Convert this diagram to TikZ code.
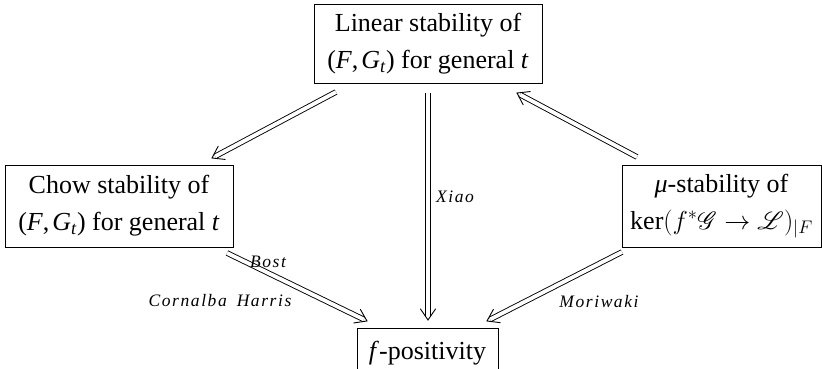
\RequirePackage{fix-cm}
\documentclass[tikz,border=0pt]{standalone}
\usepackage{fontspec}
\usepackage{mathrsfs}
\setmainfont{Liberation Serif}
\usetikzlibrary{arrows.meta,decorations.markings}
\newcommand{\FGt}{(\textit{F},\kern3pt\textit{G}\textsubscript{\textit{t}})}
\begin{document}
\begin{tikzpicture}[x=1pt,y=-1pt,
  box/.style={draw,line width=0.9pt,align=center,inner sep=0pt,
    font=\fontsize{26}{37}\selectfont},
  imp/.style={double,double distance=3.8pt,line width=0.9pt,shorten >=3.6pt},
  tipend/.style={decorate,decoration={markings,mark=at position 1 with
    {\draw[line width=0.9pt,line join=miter,line cap=round] (-11pt,7.5pt) -- (0,0) -- (-11pt,-7.5pt);}}},
  lab/.style={font=\fontsize{17.5}{20}\selectfont\itshape\addfontfeature{LetterSpace=9}}]
\useasboundingbox (0,0) rectangle (822,369);
\begin{scope}
\clip (0,0) rectangle (822,369);
\node[box,minimum width=228,minimum height=79] (top) at (428,43.5)
  {Linear stability of\\\FGt{} for general \textit{t}};
\node[box,minimum width=228,minimum height=82] (left) at (119,206)
  {Chow stability of\\\FGt{} for general \textit{t}};
\node[box,minimum width=199,minimum height=82] (right) at (721.5,206)
  {\textit{μ}-stability of\\$\ker(f^*\mathscr{G}\to\mathscr{L})_{|F}$};
\node[box,minimum width=141,minimum height=50] (bot) at (427.5,353)
  {\textit{f}-positivity};
\end{scope}
\coordinate (a1) at (336,92); \coordinate (a2) at (212,158);
\coordinate (b1) at (428,93); \coordinate (b2) at (428,320);
\coordinate (c1) at (637,157); \coordinate (c2) at (517,93);
\coordinate (d1) at (622,252); \coordinate (d2) at (487,321);
\coordinate (e1) at (227,253); \coordinate (e2) at (367,321);
\foreach \s/\e in {a1/a2,b1/b2,c1/c2,d1/d2,e1/e2}{
  \draw[imp] (\s) -- (\e);
  \path[tipend] (\s) -- (\e);
}
\node[lab] (l0) at (455,197) {Xiao};
\node[lab] (l1) at (268,262) {Bost};
\node[lab] (l2) at (220,301) {Cornalba\hspace{10pt}Harris};
\node[lab] (l3) at (599,302) {Moriwaki};
\end{tikzpicture}
\end{document}
